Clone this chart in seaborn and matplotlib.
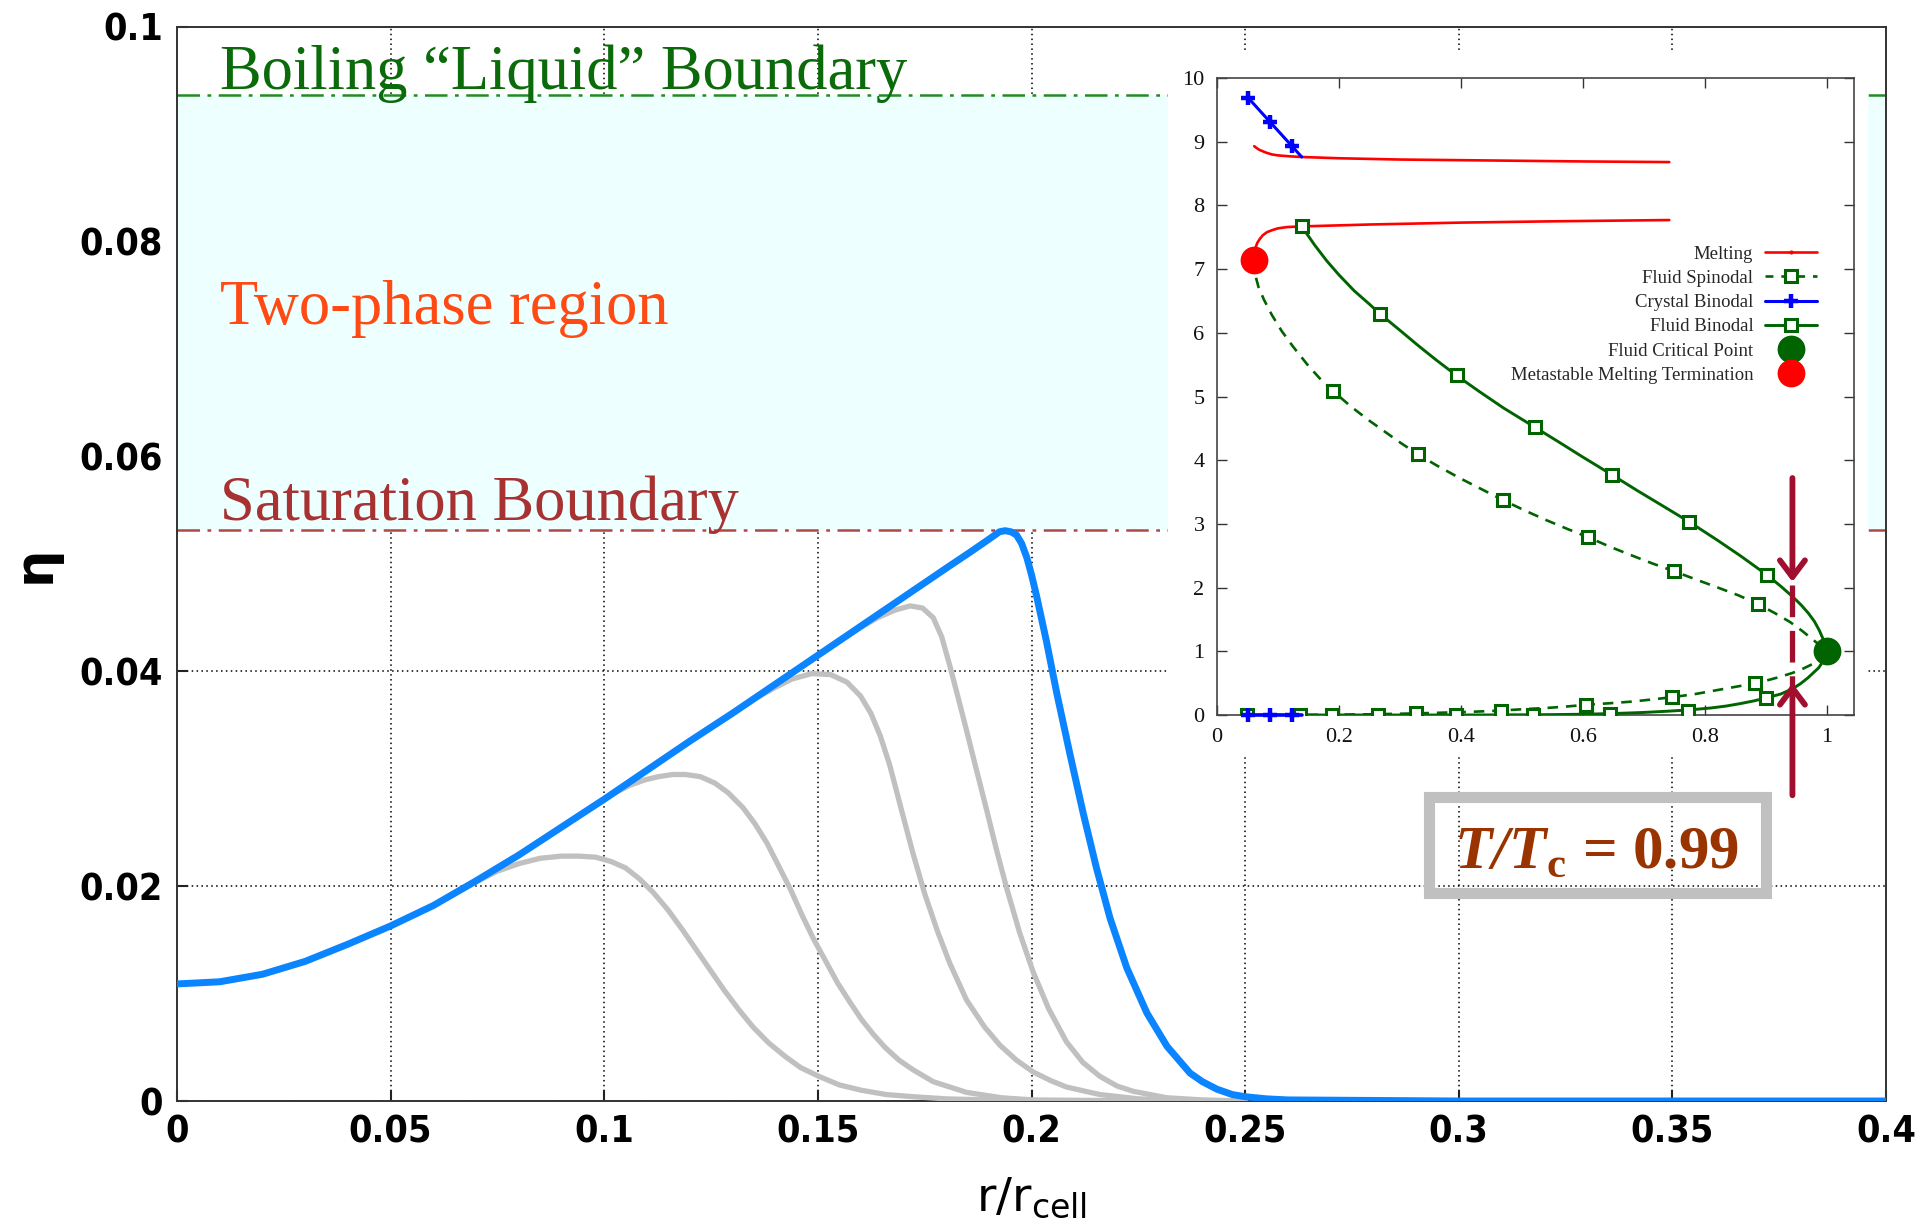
import matplotlib
matplotlib.use("Agg")
import matplotlib.pyplot as plt
import seaborn as sns
from matplotlib.lines import Line2D
from matplotlib.patches import Rectangle
from matplotlib.font_manager import FontProperties

# ---------------- main panel data ----------------
blue_r = [0.000, 0.010, 0.020, 0.030, 0.040, 0.050, 0.060, 0.070, 0.080, 0.090,
          0.100, 0.110, 0.120, 0.130, 0.140, 0.150, 0.160, 0.170, 0.180, 0.186,
          0.190, 0.1925, 0.1938, 0.1952, 0.1965, 0.1977, 0.1989, 0.2000, 0.2012,
          0.2035, 0.2059, 0.2090, 0.2121, 0.2152, 0.2184, 0.2223, 0.2270, 0.2317,
          0.2371, 0.2400, 0.2434, 0.2470, 0.2500, 0.2550, 0.2600, 0.300, 0.350, 0.400]
blue_eta = [0.0109, 0.0111, 0.0118, 0.0130, 0.0146, 0.0163, 0.0182, 0.0205, 0.0229, 0.0255,
            0.0281, 0.0308, 0.0335, 0.0361, 0.0388, 0.0415, 0.0442, 0.0469, 0.0496, 0.0512,
            0.0523, 0.0530, 0.0531, 0.0530, 0.0527, 0.0519, 0.0506, 0.0490, 0.0470,
            0.0428, 0.0380, 0.0323, 0.0268, 0.0217, 0.0170, 0.0124, 0.0082, 0.0051,
            0.0026, 0.0018, 0.0011, 0.0006, 0.0004, 0.0002, 0.0001, 0.0, 0.0, 0.0]

gray1_r = [0.0600, 0.0700, 0.0750, 0.0800, 0.0850, 0.0900, 0.0940, 0.0980, 0.1016,
           0.1050, 0.1082, 0.1115, 0.1149, 0.1182, 0.1215, 0.1248, 0.1281, 0.1315,
           0.1348, 0.1385, 0.1425, 0.1460, 0.1502, 0.1550, 0.1602, 0.1660, 0.1723,
           0.1800, 0.1900, 0.2100, 0.2500]
gray1_eta = [0.0182, 0.0204, 0.0214, 0.0221, 0.0226, 0.0228, 0.0228, 0.0227, 0.0223,
             0.0217, 0.0207, 0.0194, 0.0178, 0.0160, 0.0141, 0.0122, 0.0103, 0.0085,
             0.0069, 0.0054, 0.0041, 0.0031, 0.0023, 0.0015, 0.0010, 0.0006, 0.0004,
             0.0002, 0.0001, 0.0, 0.0]

gray2_r = [0.0850, 0.0950, 0.1000, 0.1030, 0.1060, 0.1095, 0.1127, 0.1160, 0.1190,
           0.1225, 0.1259, 0.1290, 0.1325, 0.1353, 0.1381, 0.1408, 0.1436, 0.1463,
           0.1491, 0.1520, 0.1546, 0.1575, 0.1602, 0.1630, 0.1657, 0.1690, 0.1723,
           0.1770, 0.1848, 0.1930, 0.2004, 0.2300, 0.2500]
gray2_eta = [0.0242, 0.0268, 0.0281, 0.0288, 0.0294, 0.0299, 0.0302, 0.0304, 0.0304,
             0.0302, 0.0296, 0.0287, 0.0273, 0.0258, 0.0240, 0.0219, 0.0197, 0.0173,
             0.0150, 0.0129, 0.0110, 0.0092, 0.0076, 0.0062, 0.0050, 0.0038, 0.0029,
             0.0018, 0.0008, 0.0003, 0.0001, 0.0, 0.0]

gray3_r = [0.1200, 0.1300, 0.1350, 0.1400, 0.1440, 0.1486, 0.1530, 0.1568, 0.1600,
           0.1624, 0.1646, 0.1668, 0.1695, 0.1723, 0.1750, 0.1780, 0.1809, 0.1848,
           0.1890, 0.1926, 0.1965, 0.2004, 0.2045, 0.2082, 0.2160, 0.2250, 0.2400, 0.2500]
gray3_eta = [0.0335, 0.0361, 0.0374, 0.0385, 0.0393, 0.0398, 0.0397, 0.0390, 0.0377,
             0.0361, 0.0340, 0.0313, 0.0272, 0.0230, 0.0193, 0.0158, 0.0128, 0.0094,
             0.0069, 0.0052, 0.0038, 0.0027, 0.0019, 0.0013, 0.0006, 0.0002, 0.0, 0.0]

gray4_r = [0.1500, 0.1550, 0.1600, 0.1640, 0.1680, 0.1716, 0.1745, 0.1770, 0.1790,
           0.1809, 0.1828, 0.1848, 0.1872, 0.1895, 0.1918, 0.1942, 0.1972, 0.2004,
           0.2040, 0.2082, 0.2120, 0.2160, 0.2200, 0.2238, 0.2317, 0.2400, 0.2500]
gray4_eta = [0.0415, 0.0428, 0.0441, 0.0450, 0.0457, 0.0461, 0.0459, 0.0450, 0.0432,
             0.0405, 0.0376, 0.0345, 0.0307, 0.0271, 0.0234, 0.0198, 0.0157, 0.0120,
             0.0086, 0.0055, 0.0036, 0.0023, 0.0014, 0.0009, 0.0003, 0.0001, 0.0]

saturation_eta = 0.0532
boiling_eta = 0.0937

x_ticks = [0, 0.05, 0.1, 0.15, 0.2, 0.25, 0.3, 0.35, 0.4]
x_ticklabels = ["0", "0.05", "0.1", "0.15", "0.2", "0.25", "0.3", "0.35", "0.4"]
y_ticks = [0, 0.02, 0.04, 0.06, 0.08, 0.1]
y_ticklabels = ["0", "0.02", "0.04", "0.06", "0.08", "0.1"]

# ---------------- inset (phase diagram) data ----------------
melt_up_x = [0.061, 0.065, 0.070, 0.080, 0.090, 0.100, 0.120, 0.139, 0.2, 0.3, 0.4,
             0.5, 0.6, 0.742]
melt_up_y = [8.93, 8.90, 8.87, 8.83, 8.80, 8.785, 8.77, 8.76, 8.74, 8.72, 8.71,
             8.70, 8.69, 8.68]
melt_lo_x = [0.060, 0.061, 0.063, 0.066, 0.070, 0.075, 0.082, 0.090, 0.100, 0.115,
             0.139, 0.25, 0.4, 0.55, 0.742]
melt_lo_y = [7.15, 7.25, 7.33, 7.41, 7.47, 7.53, 7.58, 7.61, 7.64, 7.66,
             7.67, 7.70, 7.73, 7.75, 7.77]

cryst_up_x = [0.051, 0.087, 0.123, 0.139]
cryst_up_y = [9.69, 9.31, 8.93, 8.76]
cryst_lo_x = [0.051, 0.087, 0.123, 0.139]
cryst_lo_y = [0.0, 0.0, 0.0, 0.0]

binodal_x = [0.139, 0.160, 0.180, 0.200, 0.225, 0.250, 0.267, 0.300, 0.330, 0.360,
             0.393, 0.430, 0.470, 0.521, 0.560, 0.600, 0.648, 0.690, 0.730, 0.775,
             0.820, 0.860, 0.902, 0.925, 0.944, 0.958, 0.970, 0.980, 0.988, 0.994,
             0.998, 1.000,
             0.998, 0.994, 0.987, 0.978, 0.969, 0.957, 0.944, 0.925, 0.902, 0.880,
             0.859, 0.835, 0.810, 0.775, 0.740, 0.700, 0.648, 0.600, 0.550, 0.500,
             0.450, 0.393, 0.139]
binodal_y = [7.67, 7.38, 7.13, 6.91, 6.66, 6.45, 6.30, 6.04, 5.80, 5.57,
             5.33, 5.08, 4.82, 4.52, 4.29, 4.05, 3.77, 3.52, 3.29, 3.03,
             2.75, 2.49, 2.20, 2.02, 1.86, 1.73, 1.60, 1.47, 1.33, 1.20,
             1.09, 1.00,
             0.92, 0.84, 0.74, 0.66, 0.58, 0.49, 0.41, 0.33, 0.27, 0.22,
             0.18, 0.14, 0.11, 0.08, 0.06, 0.04, 0.022, 0.012, 0.006, 0.003,
             0.001, 0.0, 0.0]
binodal_mark_x = [0.139, 0.267, 0.393, 0.521, 0.648, 0.775, 0.902,
                  0.136, 0.264, 0.392, 0.518, 0.645, 0.772, 0.900]
binodal_mark_y = [7.67, 6.30, 5.33, 4.52, 3.77, 3.03, 2.20,
                  0.0, 0.0, 0.0, 0.003, 0.02, 0.07, 0.26]

spinodal_x = [0.060, 0.063, 0.068, 0.077, 0.090, 0.106, 0.125, 0.150, 0.170, 0.191,
              0.220, 0.250, 0.275, 0.300, 0.330, 0.360, 0.400, 0.435, 0.470, 0.505,
              0.540, 0.575, 0.609, 0.645, 0.679, 0.714, 0.749, 0.785, 0.819, 0.855,
              0.888, 0.915, 0.940, 0.960, 0.978, 0.992, 1.000,
              0.996, 0.988, 0.977, 0.962, 0.944, 0.924, 0.905, 0.883, 0.855, 0.820,
              0.785, 0.747, 0.710, 0.680, 0.645, 0.605, 0.570, 0.540, 0.500, 0.466,
              0.430, 0.400, 0.360, 0.327, 0.290, 0.260, 0.220, 0.188, 0.150, 0.120,
              0.080, 0.049]
spinodal_y = [7.15, 6.90, 6.72, 6.52, 6.28, 6.03, 5.78, 5.48, 5.27, 5.08,
              4.84, 4.62, 4.45, 4.28, 4.09, 3.92, 3.71, 3.54, 3.37, 3.21,
              3.06, 2.92, 2.79, 2.64, 2.51, 2.38, 2.26, 2.13, 2.01, 1.88,
              1.74, 1.60, 1.46, 1.32, 1.18, 1.07, 1.00,
              0.93, 0.86, 0.80, 0.73, 0.66, 0.60, 0.55, 0.50, 0.45, 0.39,
              0.33, 0.28, 0.24, 0.21, 0.185, 0.16, 0.13, 0.11, 0.09, 0.07,
              0.055, 0.045, 0.034, 0.025, 0.018, 0.012, 0.008, 0.005, 0.002, 0.001,
              0.0, 0.0]
spinodal_mark_x = [0.191, 0.330, 0.470, 0.609, 0.749, 0.888,
                   0.049, 0.188, 0.327, 0.466, 0.605, 0.747, 0.883]
spinodal_mark_y = [5.08, 4.09, 3.37, 2.79, 2.26, 1.74,
                   0.0, 0.005, 0.025, 0.07, 0.16, 0.28, 0.50]

critical_x, critical_y = [1.0], [1.0]
termination_x, termination_y = [0.060], [7.15]

inset_xticks = [0, 0.2, 0.4, 0.6, 0.8, 1]
inset_xticklabels = ["0", "0.2", "0.4", "0.6", "0.8", "1"]
inset_yticks = list(range(0, 11))

# T/Tc = 0.99 marker in the inset
arrow_x = 0.944
arrow_top = [3.72, 2.09]
arrow_bottom = [-1.26, 0.50]
marker_dash_y = [2.04, 0.39]

# ---------------- style ----------------
sns.set_theme(style="white")
plt.rcParams["font.family"] = ["DejaVu Sans"]
plt.rcParams["mathtext.fontset"] = "custom"
plt.rcParams["mathtext.bf"] = "Liberation Serif:bold"
plt.rcParams["mathtext.sf"] = "DejaVu Sans"
plt.rcParams["mathtext.rm"] = "DejaVu Sans"
try:
    plt.rcParams["mathtext.bfit"] = "Liberation Serif:italic:bold"
except KeyError:
    pass

W, H = 1920, 1228
fig = plt.figure(figsize=(19.2, 12.28), dpi=100)
fig.patch.set_facecolor("white")


def frac(x0, y0, x1, y1):
    return [x0 / W, 1 - y1 / H, (x1 - x0) / W, (y1 - y0) / H]


ax = fig.add_axes(frac(177, 27, 1886, 1101))
ax.set_facecolor("white")
ax.set_xlim(0, 0.4)
ax.set_ylim(0, 0.1)

ax.set_axisbelow(True)
ax.grid(True, color="black", linestyle=(0, (1, 2.2)), linewidth=1.1)
ax.axhspan(saturation_eta, boiling_eta, color="#eeffff", zorder=1, lw=0)
ax.axhline(boiling_eta, color="#238b23", lw=1.8, linestyle=(0, (9, 3, 1.5, 3)), zorder=2)
ax.axhline(saturation_eta, color="#b04848", lw=1.8, linestyle=(0, (9, 3, 1.5, 3)), zorder=2)

for gx, gy in [(gray1_r, gray1_eta), (gray2_r, gray2_eta),
               (gray3_r, gray3_eta), (gray4_r, gray4_eta)]:
    sns.lineplot(x=gx, y=gy, ax=ax, color="#c0c0c0", lw=3.8, sort=False,
                 estimator=None, zorder=3)
sns.lineplot(x=blue_r, y=blue_eta, ax=ax, color="#0a84ff", lw=5.0, sort=False,
             estimator=None, zorder=4)

serif = "Liberation Serif"
ax.text(0.01006, 0.0942, "Boiling \u201cLiquid\u201d Boundary", family=serif, fontsize=45,
        color="#0b6b0b", va="baseline", ha="left", zorder=5)
ax.text(0.01006, 0.0723, "Two-phase region", family=serif, fontsize=45,
        color="#ff4a14", va="baseline", ha="left", zorder=5)
ax.text(0.01006, 0.0541, "Saturation Boundary", family=serif, fontsize=45,
        color="#a83232", va="baseline", ha="left", zorder=5)

tick_fp = FontProperties(family="DejaVu Sans", weight="bold", stretch="condensed", size=27)
ax.set_xticks(x_ticks)
ax.set_xticklabels(x_ticklabels, fontproperties=tick_fp)
ax.set_yticks(y_ticks)
ax.set_yticklabels(y_ticklabels, fontproperties=tick_fp)
ax.tick_params(direction="in", length=8, width=1.5, color="#222222", pad=10,
               bottom=True, left=True, labelcolor="black")
for s in ax.spines.values():
    s.set_color("#333333")
    s.set_linewidth(1.4)

ax.set_xlabel(r"r/r$_{\mathsf{cell}}$", fontsize=34, labelpad=18, color="black")
ax.set_ylabel("\u03b7", fontsize=38, fontweight="bold", labelpad=14, color="black")

# white backdrop of the pasted inset
ax.add_patch(Rectangle((1168 / W, 1 - 757 / H), (1868 - 1168) / W, (757 - 52) / H,
                       transform=fig.transFigure, facecolor="white", edgecolor="none",
                       zorder=10, clip_on=False))

# ---------------- inset ----------------
red, green, blue = "#ff0000", "#006400", "#0000ff"
axi = fig.add_axes(frac(1217, 78, 1854, 715))
axi.set_facecolor("white")
axi.set_xlim(0, 1.045)
axi.set_ylim(0, 10)

axi.plot(melt_up_x, melt_up_y, color=red, lw=1.9, zorder=3)
axi.plot(melt_lo_x, melt_lo_y, color=red, lw=1.9, zorder=3)
axi.plot(spinodal_x, spinodal_y, color=green, lw=1.9, ls=(0, (4, 3)), zorder=3)
axi.plot(binodal_x, binodal_y, color=green, lw=2.1, zorder=3)
axi.plot(spinodal_mark_x, spinodal_mark_y, ls="none", marker="s", ms=8, mfc="white",
         mec=green, mew=2.2, zorder=4)
axi.plot(binodal_mark_x, binodal_mark_y, ls="none", marker="s", ms=8, mfc="white",
         mec=green, mew=2.2, zorder=4)
axi.plot(cryst_up_x, cryst_up_y, color=blue, lw=2.2, zorder=5)
axi.plot(cryst_up_x[:3], cryst_up_y[:3], ls="none", marker="+", ms=10, mew=3.2,
         color=blue, zorder=5, clip_on=False)
axi.plot(cryst_lo_x, cryst_lo_y, color=blue, lw=2.6, zorder=5, clip_on=False)
axi.plot(cryst_lo_x[:3], cryst_lo_y[:3], ls="none", marker="+", ms=10, mew=3.2,
         color=blue, zorder=5, clip_on=False)
axi.plot(critical_x, critical_y, ls="none", marker="o", ms=19, color=green, zorder=6,
         clip_on=False)
axi.plot(termination_x, termination_y, ls="none", marker="o", ms=19, color=red, zorder=6)

arrow_col = "#a0102e"
axi.plot([arrow_x, arrow_x], marker_dash_y, color=arrow_col, lw=3.8,
         ls=(0, (6, 2.6)), zorder=7, solid_capstyle="butt")
for yy in (arrow_top, arrow_bottom):
    axi.annotate("", xy=(arrow_x, yy[1]), xytext=(arrow_x, yy[0]),
                 arrowprops=dict(arrowstyle="->,head_length=0.6,head_width=0.45",
                                 color=arrow_col, lw=4.2, mutation_scale=20,
                                 shrinkA=0, shrinkB=0),
                 annotation_clip=False, zorder=8)

axi.set_xticks(inset_xticks)
axi.set_xticklabels(inset_xticklabels, family=serif, fontsize=16)
axi.set_yticks(inset_yticks)
axi.set_yticklabels([str(v) for v in inset_yticks], family=serif, fontsize=16)
axi.tick_params(direction="in", length=7, width=1.0, color="#333333", pad=9,
                top=True, right=True, bottom=True, left=True, labelcolor="#111111")
for s in axi.spines.values():
    s.set_color("#444444")
    s.set_linewidth(1.2)
axi.grid(False)

handles = [
    Line2D([], [], color=red, lw=1.9, marker=".", ms=4),
    Line2D([], [], color=green, lw=1.9, ls=(0, (3, 3)), marker="s", ms=8, mfc="white",
           mec=green, mew=2.2),
    Line2D([], [], color=blue, lw=2.2, marker="+", ms=10, mew=3.2),
    Line2D([], [], color=green, lw=2.1, marker="s", ms=8, mfc="white", mec=green, mew=2.2),
    Line2D([], [], ls="none", marker="o", ms=19, color=green),
    Line2D([], [], ls="none", marker="o", ms=19, color=red),
]
labels = ["Melting", "Fluid Spinodal", "Crystal Binodal", "Fluid Binodal",
          "Fluid Critical Point", "Metastable Melting Termination"]
axi.legend(handles, labels, loc="upper right", bbox_to_anchor=(0.942, 0.737),
           frameon=False, markerfirst=False, prop={"family": serif, "size": 13.5},
           handlelength=2.8, handletextpad=0.6, labelspacing=0.38, borderpad=0,
           borderaxespad=0)

# T/Tc box
fig.add_artist(Rectangle((1428.5 / W, 1 - 892.5 / H), (1765.5 - 1428.5) / W,
                         (892.5 - 796.5) / H, transform=fig.transFigure, fill=False,
                         edgecolor="#c0c0c0", lw=8, zorder=5))
fig.text(1596 / W, 1 - 868 / H, r"$\mathbfit{T/T}_{\mathbf{c}}$ = 0.99", fontsize=44,
         color="#993300", ha="center", va="baseline", family=serif, fontweight="bold",
         zorder=6)

fig.savefig("out.png", dpi=100, facecolor="white")
